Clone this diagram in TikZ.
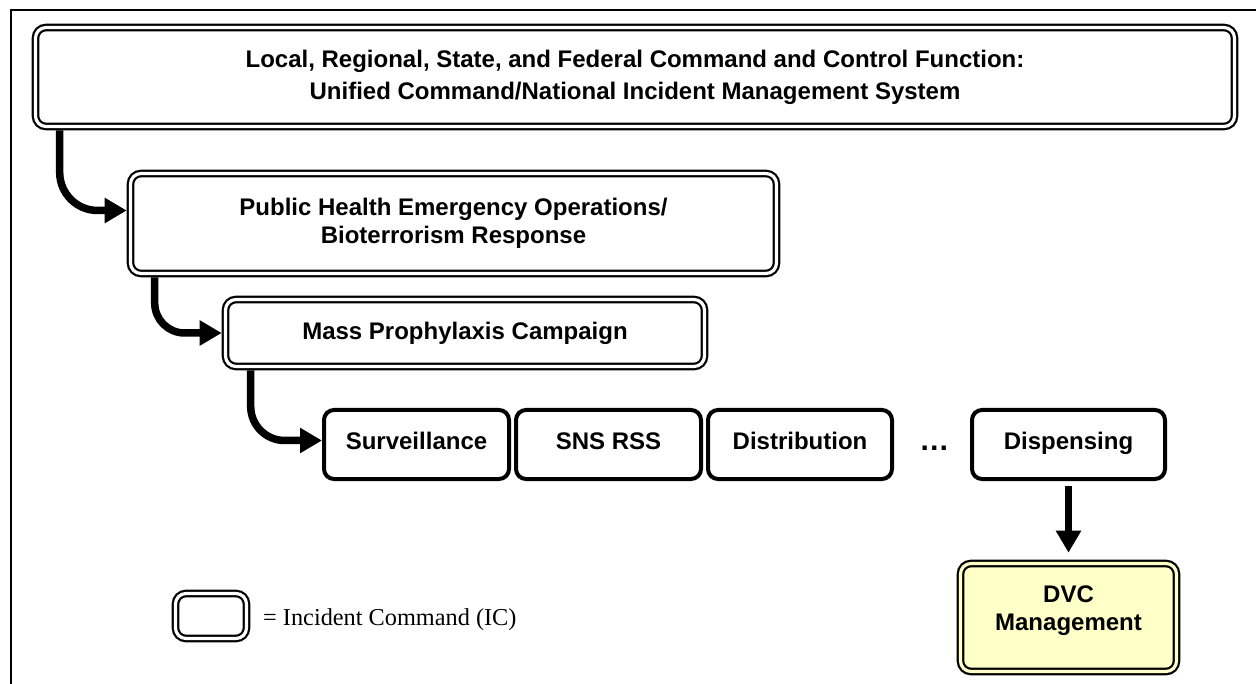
\documentclass[tikz,border=0pt]{standalone}
\usepackage{fontspec}
\setmainfont{Liberation Serif}
\setsansfont{Liberation Sans}
\usetikzlibrary{positioning,calc,arrows.meta}
\definecolor{dvcyellow}{RGB}{255,255,200}

\begin{document}
\begin{tikzpicture}[x=1pt, y=-1pt,
        ic/.style={draw, rounded corners=10.5pt, line width=2.2pt, double, double distance=3.2pt,
            outer sep=3.8pt, align=center, font=\sffamily\bfseries\fontsize{24}{28}\selectfont},
        task/.style={draw, rounded corners=10pt, line width=4pt, minimum width=185pt,
            minimum height=69pt, text depth=7pt, font=\sffamily\bfseries\fontsize{24}{28}\selectfont},
        arr/.style={line width=7.5pt, -{Triangle[length=22pt,width=24pt]}, rounded corners=38pt}]
            \useasboundingbox (0,0) rectangle (1256,684);
            \draw[line width=2.5pt] (11,684) -- (11,10) -- (1256,10);

            \node[ic, minimum width=1199pt, minimum height=99pt] (1) at (635,77)
                {Local, Regional, State, and Federal Command and Control Function:\\[4pt]Unified Command/National Incident Management System};
            \node[ic, minimum width=646pt, minimum height=100pt] (2) at (453.5,223.5)
                {Public Health Emergency Operations/\\Bioterrorism Response};
            \node[ic, minimum width=479pt, minimum height=67pt] (3) at (465,333) {Mass Prophylaxis Campaign};

            \node[task] (4) at (416.5,444.5) {Surveillance};
            \node[task, right=3pt of 4] (5) {SNS RSS};
            \node[task, right=3pt of 5, minimum width=184pt] (6) {Distribution};
            \node[task, right=76pt of 6, minimum width=193pt] (8) {Dispensing};
            \node[font=\sffamily\bfseries\fontsize{30}{30}\selectfont, yshift=-4pt] (7) at ($(6)!.5!(8)$) {…};

            \node[ic, fill=dvcyellow, double=dvcyellow, minimum width=216pt, minimum height=108pt,
                label={[yshift=7pt, align=center, font=\sffamily\bfseries\fontsize{24}{28}\selectfont]center:{DVC\\Management}}]
                (9) at (1068.5,617.5) {};

            \node[ic, minimum width=71pt, minimum height=45pt] (10) at (211,616) {};
            \node[anchor=base west, inner sep=0pt, font=\fontsize{24.3}{28}\selectfont] (11) at (263,625)
                {= Incident Command (IC)};

            \draw[arr] ([xshift=28pt]1.south west) |- ([yshift=13pt]2.west);
            \draw[arr, rounded corners=30pt] ([xshift=28pt]2.south west) |- (3.west);
            \draw[arr, rounded corners=34pt] ([xshift=29pt]3.south west) |- ([yshift=4pt]4.west);
            \draw[arr, shorten <=5pt, shorten >=7pt] (8) -- (9);
        \end{tikzpicture}
\end{document}
